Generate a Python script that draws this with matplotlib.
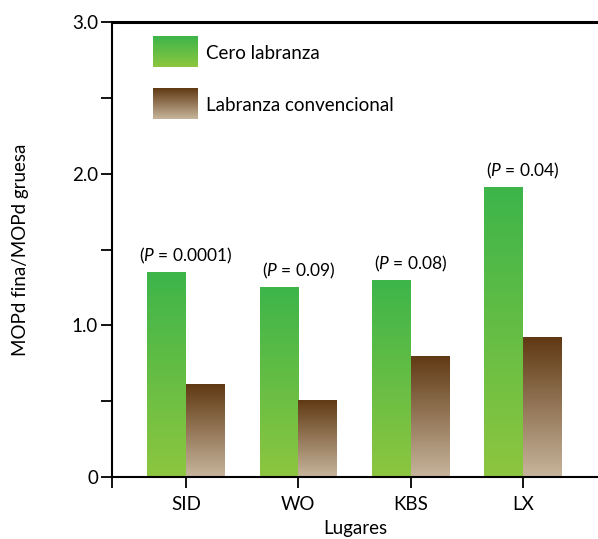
import numpy as np
import matplotlib.pyplot as plt
from matplotlib.colors import LinearSegmentedColormap

plt.rcParams['font.family'] = ['Lato', 'DejaVu Sans']
plt.rcParams['mathtext.fontset'] = 'custom'
plt.rcParams['mathtext.rm'] = 'Lato'
plt.rcParams['mathtext.it'] = 'Lato:italic'

# data
sites = ['SID', 'WO', 'KBS', 'LX']
cero = [1.35, 1.25, 1.30, 1.91]
convencional = [0.61, 0.51, 0.80, 0.92]
pvals = ['0.0001', '0.09', '0.08', '0.04']

green_cm = LinearSegmentedColormap.from_list('g', ['#8dc63f', '#3db54a'])
brown_cm = LinearSegmentedColormap.from_list('b', ['#c7b59c', '#603913'])
grad = np.linspace(0, 1, 256).reshape(-1, 1)

fig = plt.figure(figsize=(5.98, 5.39), dpi=100)
ax = fig.add_axes([112 / 598, 1 - 477 / 539, 1 - 112 / 598, (477 - 22) / 539])

x = np.arange(len(sites))
w = 0.345
bars_g = ax.bar(x - w / 2, cero, w, color='none')
bars_b = ax.bar(x + w / 2, convencional, w, color='none')


def fill_gradient(bars, cmap):
    for b in bars:
        x0, y0 = b.get_x(), b.get_y()
        im = ax.imshow(grad, cmap=cmap, origin='lower', aspect='auto',
                       extent=[x0, x0 + b.get_width(), y0, y0 + b.get_height()],
                       zorder=2)
        im.set_clip_path(b)


fill_gradient(bars_g, green_cm)
fill_gradient(bars_b, brown_cm)

for xi, v, p in zip(x, cero, pvals):
    ax.text(xi, v + 0.04, r'($\mathit{P}$ = ' + p + ')', ha='center', va='bottom',
            fontsize=12.5)

ax.set_xlim(-0.66, 3.67)
ax.set_ylim(0, 3.0)
ax.set_xticks(x)
ax.set_xticklabels(sites, fontsize=13.5)
ax.set_xticks([-0.66], minor=True)
ax.set_yticks([0, 1, 2, 3])
ax.set_yticklabels(['0', '1.0', '2.0', '3.0'], fontsize=13.5)
ax.set_yticks([0.5, 1.5, 2.5], minor=True)
ax.tick_params(axis='y', which='both', length=8, width=1.3, direction='out', pad=2)
ax.tick_params(axis='x', which='both', length=8, width=1.3, direction='out', pad=6)

ax.spines['right'].set_visible(False)
ax.spines['top'].set_linewidth(2.2)
ax.spines['left'].set_linewidth(1.5)
ax.spines['bottom'].set_linewidth(1.5)

ax.set_xlabel('Lugares', fontsize=13.5, labelpad=5)
ax.set_ylabel('MOPd fina/MOPd gruesa', fontsize=13.5, labelpad=31)

# legend with gradient swatches
legend_items = [('Cero labranza', green_cm, 36), ('Labranza convencional', brown_cm, 88)]
for label, cmap, ytop in legend_items:
    x0 = (153 - 112) / 486
    x1 = (198 - 112) / 486
    y1 = (477 - ytop) / 455
    y0 = (477 - ytop - 31) / 455
    ax.imshow(grad, cmap=cmap, origin='lower', aspect='auto',
              extent=[x0, x1, y0, y1], transform=ax.transAxes, zorder=3)
    ax.text((206 - 112) / 486, (y0 + y1) / 2 - 0.005, label, transform=ax.transAxes,
            va='center', ha='left', fontsize=13.5)

ax.set_xlim(-0.66, 3.67)
ax.set_ylim(0, 3.0)

fig.savefig('out.png', dpi=100)
